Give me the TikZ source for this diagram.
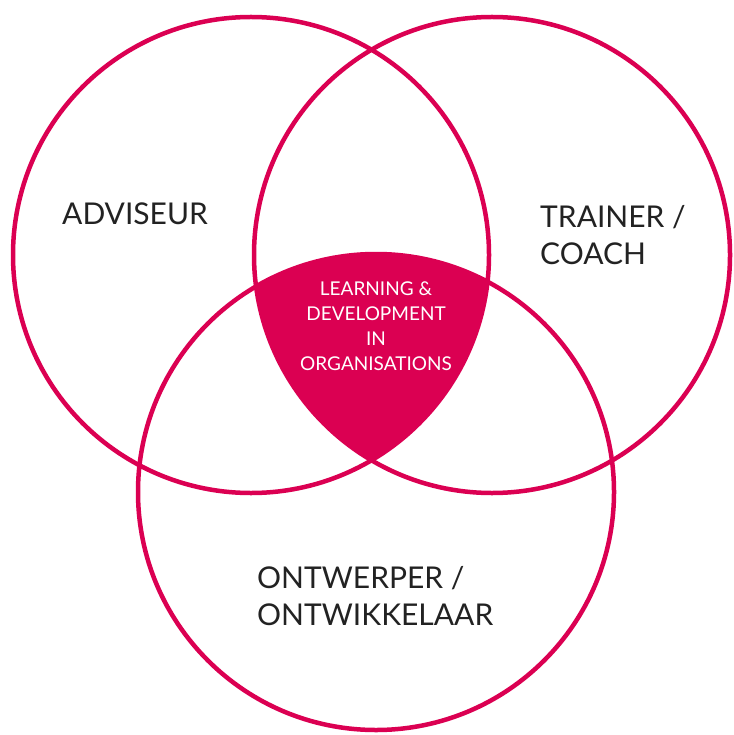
\documentclass[tikz,border=0pt]{standalone}
\usepackage{fontspec}
\setmainfont{Lato}
\definecolor{vennRed}{RGB}{219,0,82}
\definecolor{roleGrey}{RGB}{34,34,34}

\begin{document}
\begin{tikzpicture}
[x=1pt,y=-1pt,%
  ringDecorate/.style={shape=circle,minimum size=476pt,inner sep=0pt,draw=vennRed,line width=4.5pt},%
  roleDecorate/.style={align=left,text=roleGrey,inner sep=0pt,font=\fontsize{30}{37}\selectfont},%
  coreDecorate/.style={align=center,text=white,inner sep=0pt,font=\fontsize{19}{25}\selectfont}]
\useasboundingbox (0,0) rectangle (733,735);
%% filled centre of the three circles
\begin{scope}
  \clip (251,255) circle (238pt);
  \clip (492,255) circle (238pt);
  \fill[vennRed] (376,492) circle (238pt);
\end{scope}
%% circles
\foreach \nodename/\x/\y in {
  adviseur/251/255, trainer/492/255, ontwerper/376/492}
{
  \node[ringDecorate] (\nodename) at (\x,\y) {};
}
%% circle labels
\node[roleDecorate,anchor=west] (adviseurText) at (62,214) {ADVISEUR};
\node[roleDecorate,anchor=west] (trainerText) at (540,235) {TRAINER /\\COACH};
\node[roleDecorate,anchor=west] (ontwerperText) at (257,596) {ONTWERPER /\\ONTWIKKELAAR};
%% centre label
\node[coreDecorate] (core) at (376,326) {LEARNING \&\\DEVELOPMENT\\IN\\ORGANISATIONS};
\end{tikzpicture}
\end{document}
